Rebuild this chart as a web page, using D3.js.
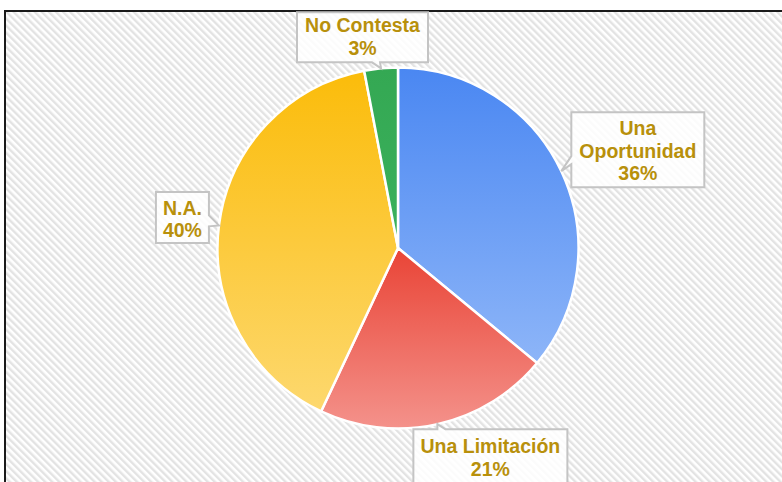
<!DOCTYPE html>
<html><head><meta charset="utf-8">
<script src="https://cdn.jsdelivr.net/npm/d3@7"></script>
<style>html,body{margin:0;padding:0;background:#fff;overflow:hidden}</style>
</head><body>
<svg id="c" width="782" height="482"></svg>
<script>
const categories = ["Una Oportunidad", "Una Limitación", "N.A.", "No Contesta"];
const values = [36, 21, 40, 3];
const labelLines = [["Una", "Oportunidad", "36%"], ["Una Limitación", "21%"], ["N.A.", "40%"], ["No Contesta", "3%"]];
const colorsTop = ["#4a87f2", "#e94436", "#fbbc0a", "#34a853"];
const colorsBottom = ["#8db5f8", "#f4928b", "#fdd86e", "#3bb15c"];

// layout of callouts relative to the tip point (not data)
const layout = [
  {dx: 10, dy: -59, w: 133, h: 75, side: "left", b1: -15, b2: -7, first: 23},
  {dx: -24, dy: 5, w: 154, h: 62, side: "top", b1: 0, b2: 8, first: 24},
  {dx: -63, dy: -33.5, w: 53, h: 51, side: "right", b1: -10, b2: 1, first: 23},
  {dx: -84, dy: -56, w: 131, h: 50, side: "bottom", b1: -9, b2: -1, first: 20}
];

const svg = d3.select("#c");
const defs = svg.append("defs");
const pat = defs.append("pattern").attr("id", "stripes").attr("patternUnits", "userSpaceOnUse")
  .attr("width", 5).attr("height", 5).attr("patternTransform", "rotate(-45)");
pat.append("rect").attr("width", 5).attr("height", 5).attr("fill", "#ffffff");
pat.append("rect").attr("width", 2.4).attr("height", 5).attr("fill", "#e3e3e3");

categories.forEach((c, i) => {
  const g = defs.append("linearGradient").attr("id", "g" + i).attr("x1", 0).attr("y1", 0).attr("x2", 0).attr("y2", 1);
  g.append("stop").attr("offset", "0%").attr("stop-color", colorsTop[i]);
  g.append("stop").attr("offset", "100%").attr("stop-color", colorsBottom[i]);
});

// background + frame
svg.append("rect").attr("x", 5).attr("y", 11).attr("width", 790).attr("height", 480).attr("fill", "url(#stripes)");
svg.append("path").attr("d", "M5,482 V11 H782").attr("fill", "none").attr("stroke", "#1a1a1a").attr("stroke-width", 2);

const cx = 398, cy = 248, R = 180.5;
const pie = d3.pie().sort(null).value(d => d);
const arcs = pie(values);
const arc = d3.arc().innerRadius(0).outerRadius(R);

const gp = svg.append("g").attr("transform", `translate(${cx},${cy})`);
gp.selectAll("path").data(arcs).join("path")
  .attr("d", arc)
  .attr("fill", (d, i) => `url(#g${i})`)
  .attr("stroke", "#ffffff").attr("stroke-width", 2.5).attr("stroke-linejoin", "round");

// callouts
arcs.forEach((a, i) => {
  const mid = (a.startAngle + a.endAngle) / 2;
  const tx = cx + R * Math.sin(mid), ty = cy - R * Math.cos(mid);
  const L = layout[i];
  const x = tx + L.dx, y = ty + L.dy, w = L.w, h = L.h;
  let d;
  if (L.side === "left") d = `M${x},${y}H${x+w}V${y+h}H${x}V${ty+L.b2}L${tx},${ty}L${x},${ty+L.b1}Z`;
  else if (L.side === "right") d = `M${x},${y}H${x+w}V${ty+L.b1}L${tx},${ty}L${x+w},${ty+L.b2}V${y+h}H${x}Z`;
  else if (L.side === "top") d = `M${x},${y}H${tx+L.b1}L${tx},${ty}L${tx+L.b2},${y}H${x+w}V${y+h}H${x}Z`;
  else d = `M${x},${y}H${x+w}V${y+h}H${tx+L.b2}L${tx},${ty}L${tx+L.b1},${y+h}H${x}Z`;
  svg.append("path").attr("d", d).attr("fill", "rgba(255,255,255,0.85)")
    .attr("stroke", "#c4c4c4").attr("stroke-width", 2);
  const t = svg.append("text").attr("text-anchor", "middle")
    .attr("font-family", "'Liberation Sans', Arial, sans-serif").attr("font-weight", "bold")
    .attr("font-size", 19.5).attr("fill", "#b8900b");
  labelLines[i].forEach((ln, k) => {
    t.append("tspan").attr("x", x + w / 2).attr("y", y + L.first + k * 22.5).text(ln);
  });
});
</script>
</body></html>
